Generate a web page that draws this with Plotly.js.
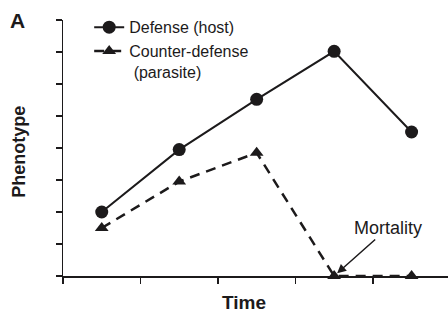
<!DOCTYPE html>
<html>
<head>
<meta charset="utf-8">
<script src="https://cdn.plot.ly/plotly-3.0.1.min.js"></script>
<style>html,body{margin:0;padding:0;background:#fff}#chart{width:448px;height:314px}</style>
</head>
<body>
<div id="chart"></div>
<script>
// Data
var timePoints = [0.5, 1.5, 2.5, 3.5, 4.5];
var defenseHost = [2.0, 3.95, 5.52, 7.02, 4.5];
var counterDefenseParasite = [1.5, 2.95, 3.85, 0, 0];
var seriesNames = ["Defense (host)", "Counter-defense<br> (parasite)"];
var ink = "#1c1a1b";
var fontFam = "'Liberation Sans', Arial, Helvetica, sans-serif";

var traces = [
  {
    x: timePoints, y: defenseHost, name: seriesNames[0],
    type: "scatter", mode: "lines+markers", cliponaxis: false,
    line: {color: ink, width: 2},
    marker: {symbol: "circle", size: 13, color: ink}
  },
  {
    x: timePoints, y: counterDefenseParasite, name: seriesNames[1],
    type: "scatter", mode: "lines+markers", cliponaxis: false,
    line: {color: ink, width: 2.5, dash: "10px,7px"},
    marker: {symbol: "triangle-up", size: 12, color: ink}
  }
];

var layout = {
  width: 448, height: 314,
  margin: {l: 63, r: 0, t: 20, b: 38, pad: 0},
  paper_bgcolor: "#fff", plot_bgcolor: "#fff",
  font: {family: fontFam, color: ink, size: 16},
  showlegend: true,
  legend: {
    x: 0.068, y: 1.038, xanchor: "left", yanchor: "top",
    bgcolor: "rgba(0,0,0,0)", valign: "top",
    font: {family: fontFam, size: 16, color: ink},
    tracegroupgap: 0, itemclick: false
  },
  xaxis: {
    range: [0, 4.97], showgrid: false, zeroline: false,
    showline: true, linecolor: ink, linewidth: 1.5,
    ticks: "outside", ticklen: 6, tickwidth: 1.5, tickcolor: ink,
    tick0: 0, dtick: 1, showticklabels: false, fixedrange: true
  },
  yaxis: {
    range: [0, 8], showgrid: false, zeroline: false,
    showline: true, linecolor: ink, linewidth: 1.5,
    ticks: "outside", ticklen: 6, tickwidth: 1.5, tickcolor: ink,
    tick0: 0, dtick: 1, showticklabels: false, fixedrange: true
  },
  annotations: [
    {text: "<b>A</b>", xref: "paper", yref: "paper", x: -0.117, y: 1.0, xanchor: "center", yanchor: "middle",
     showarrow: false, borderpad: 0, font: {size: 21, color: ink, family: fontFam}},
    {text: "<b>Phenotype</b>", xref: "paper", yref: "paper", x: -0.113, y: 0.487, textangle: -90,
     xanchor: "center", yanchor: "middle", showarrow: false, font: {size: 18, color: ink, family: fontFam}},
    {text: "<b>Time</b>", xref: "paper", yref: "paper", x: 0.469, y: -0.105, xanchor: "center", yanchor: "middle",
     showarrow: false, borderpad: 0, font: {size: 19, color: ink, family: fontFam}},
    {text: "Mortality", x: timePoints[3], y: counterDefenseParasite[3], xref: "x", yref: "y",
     ax: 54, ay: -48, showarrow: true, arrowhead: 2, arrowsize: 1.2, arrowwidth: 1.5, arrowcolor: ink,
     standoff: 4, font: {size: 18, color: ink, family: fontFam}}
  ]
};

Plotly.newPlot("chart", traces, layout, {displayModeBar: false, staticPlot: true});
</script>
</body>
</html>
